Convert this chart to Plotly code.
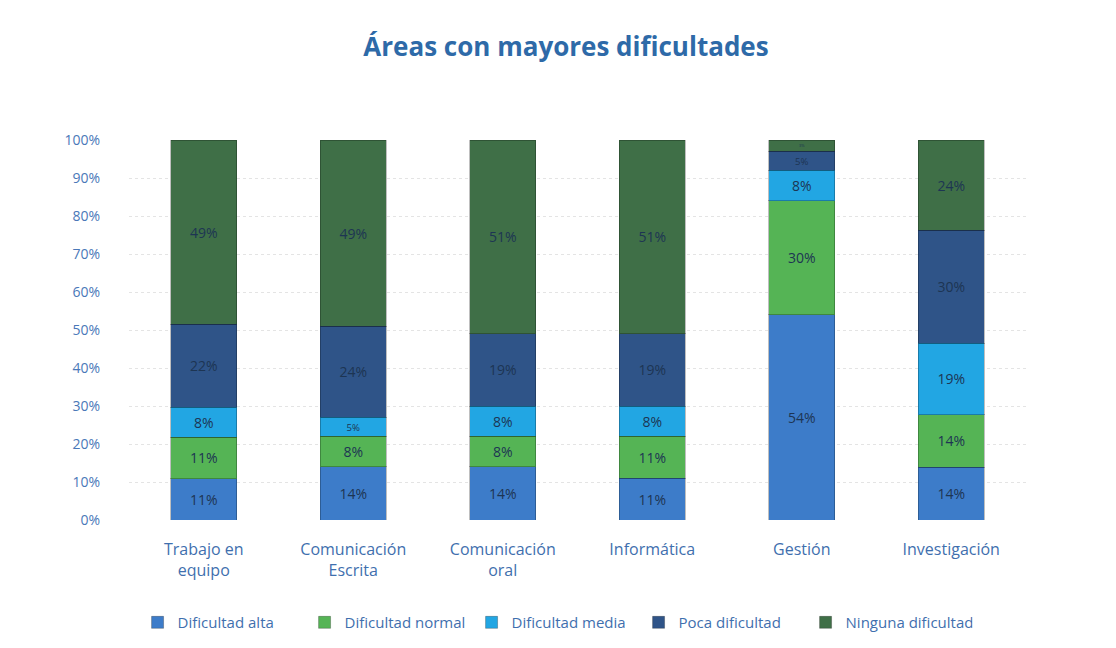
import plotly.graph_objects as go

categories = ["Trabajo en<br>equipo", "Comunicación<br>Escrita", "Comunicación<br>oral",
              "Informática", "Gestión", "Investigación"]
dificultad_alta = [11, 14, 14, 11, 54, 14]
dificultad_normal = [11, 8, 8, 11, 30, 14]
dificultad_media = [8, 5, 8, 8, 8, 19]
poca_dificultad = [22, 24, 19, 19, 5, 30]
ninguna_dificultad = [49, 49, 51, 51, 3, 24]

series = [
    ("Dificultad alta", dificultad_alta, "#3d7cc9"),
    ("Dificultad normal", dificultad_normal, "#55b455"),
    ("Dificultad media", dificultad_media, "#22a6e3"),
    ("Poca dificultad", poca_dificultad, "#2f5488"),
    ("Ninguna dificultad", ninguna_dificultad, "#3f6f47"),
]

fig = go.Figure()
for name, vals, color in series:
    fig.add_trace(go.Bar(
        name=name, x=categories, y=vals,
        marker=dict(color=color, line=dict(color="rgba(0,0,0,0.25)", width=1)),
        text=[f"{v}%" for v in vals], textposition="inside",
        insidetextanchor="middle",
        textfont=dict(color="#1d3553", size=14, family="Open Sans"),
        hoverinfo="name+y",
    ))

fig.update_layout(
    barmode="stack", barnorm="percent", bargap=0.56,
    width=1116, height=648,
    paper_bgcolor="white", plot_bgcolor="white",
    margin=dict(l=121, r=98, t=132, b=136),
    title=dict(text="<b>Áreas con mayores dificultades</b>", x=0.5, xanchor="center",
               y=0.94, yanchor="middle",
               font=dict(family="Open Sans", size=26, color="#2e6aa8")),
    font=dict(family="Open Sans", color="#3f6fae", size=14),
    legend=dict(orientation="h", x=0.475, xanchor="center", y=-0.27, yanchor="middle",
                font=dict(size=15, color="#3f6fae"), traceorder="normal",
                itemwidth=30, entrywidth=122, entrywidthmode="pixels"),
)
fig.update_yaxes(range=[0, 100], dtick=10, ticksuffix="%", showgrid=True,
                 gridcolor="#e4e4e4", griddash="dot", zeroline=False,
                 tickfont=dict(size=14, color="#4a78b8"), ticklabelstandoff=28)
fig.update_xaxes(tickfont=dict(size=16, color="#3f6fae"), showline=False,
                 ticklabelstandoff=18)

fig.write_html("out.html")
